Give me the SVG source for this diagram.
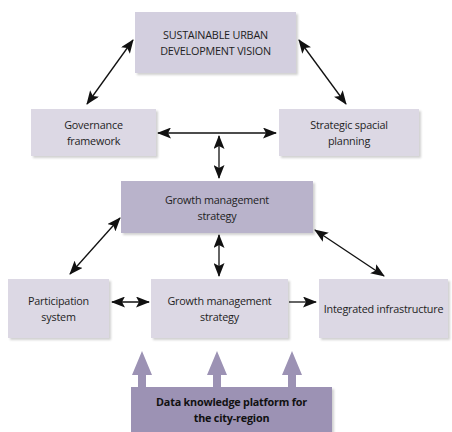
<svg xmlns="http://www.w3.org/2000/svg" width="452" height="432" viewBox="0 0 452 432">
<defs>
<marker id="ah" viewBox="0 0 14 11" refX="13" refY="5.5" markerWidth="14" markerHeight="11" markerUnits="userSpaceOnUse" orient="auto-start-reverse">
<path d="M0,0 L14,5.5 L0,11 L3,5.5 Z" fill="#111"/>
</marker>
<filter id="sh" x="-10%" y="-10%" width="130%" height="130%">
<feDropShadow dx="2" dy="2" stdDeviation="1.2" flood-color="#000" flood-opacity="0.18"/>
</filter>
</defs>
<style>
.box{filter:url(#sh)}
.light{fill:#dcd8e4}
.top{fill:#d3cfdf}
.mid{fill:#b9b3cb}
.dark{fill:#9c92b4}
text{font-family:"Open Sans","Liberation Sans",sans-serif;font-size:10.8px;fill:#1e1e1e;text-anchor:middle;letter-spacing:-0.2px}
.b{font-weight:bold;fill:#111}
.con{stroke:#111;stroke-width:1.3;fill:none}
.up{fill:#9c92b4}
</style>
<rect width="452" height="432" fill="#fff"/>
<g id="vision">
<rect class="box top" x="135" y="12" width="161" height="61"/>
<text x="215.5" y="39" letter-spacing="-0.4">SUSTAINABLE URBAN</text>
<text x="215.5" y="55" letter-spacing="-0.4">DEVELOPMENT VISION</text>
</g>
<g id="governance">
<rect class="box light" x="31" y="109" width="125" height="47"/>
<text x="93.5" y="129">Governance</text>
<text x="93.5" y="145">framework</text>
</g>
<g id="spatial">
<rect class="box light" x="279" y="109" width="140" height="47"/>
<text x="349" y="129">Strategic spacial</text>
<text x="349" y="145">planning</text>
</g>
<g id="growth1">
<rect class="box mid" x="121" y="181" width="192" height="52"/>
<text x="217" y="204">Growth management</text>
<text x="217" y="220">strategy</text>
</g>
<g id="participation">
<rect class="box light" x="8" y="279" width="101" height="59"/>
<text x="58.5" y="305">Participation</text>
<text x="58.5" y="321">system</text>
</g>
<g id="growth2">
<rect class="box light" x="151" y="279" width="137" height="59"/>
<text x="219.5" y="305">Growth management</text>
<text x="219.5" y="321">strategy</text>
</g>
<g id="infrastructure">
<rect class="box light" x="319" y="279" width="129" height="59"/>
<text x="383.5" y="313">Integrated infrastructure</text>
</g>
<g id="platform">
<rect class="box dark" x="131" y="387" width="201" height="50"/>
<text class="b" x="231.5" y="406">Data knowledge platform for</text>
<text class="b" x="231.5" y="422">the city-region</text>
</g>
<g id="connectors">
<line class="con" x1="133" y1="40" x2="87" y2="104" marker-start="url(#ah)" marker-end="url(#ah)"/>
<line class="con" x1="299" y1="40" x2="346" y2="104" marker-start="url(#ah)" marker-end="url(#ah)"/>
<line class="con" x1="158" y1="133" x2="276" y2="133" marker-start="url(#ah)" marker-end="url(#ah)"/>
<line class="con" x1="219" y1="136" x2="219" y2="178" marker-start="url(#ah)" marker-end="url(#ah)"/>
<line class="con" x1="120" y1="218" x2="70" y2="274" marker-start="url(#ah)" marker-end="url(#ah)"/>
<line class="con" x1="315" y1="230" x2="384" y2="276" marker-start="url(#ah)" marker-end="url(#ah)"/>
<line class="con" x1="219" y1="235" x2="219" y2="276" marker-start="url(#ah)" marker-end="url(#ah)"/>
<line class="con" x1="112" y1="302" x2="149" y2="302" marker-start="url(#ah)" marker-end="url(#ah)"/>
<line class="con" x1="289" y1="302" x2="316" y2="302" marker-end="url(#ah)"/>
<path class="up" d="M142,351 L152,375 L146,375 L146,387 L138,387 L138,375 L132,375 Z"/>
<path class="up" d="M217,351 L227,375 L221,375 L221,387 L213,387 L213,375 L207,375 Z"/>
<path class="up" d="M292,351 L302,375 L296,375 L296,387 L288,387 L288,375 L282,375 Z"/>
</g>
</svg>
